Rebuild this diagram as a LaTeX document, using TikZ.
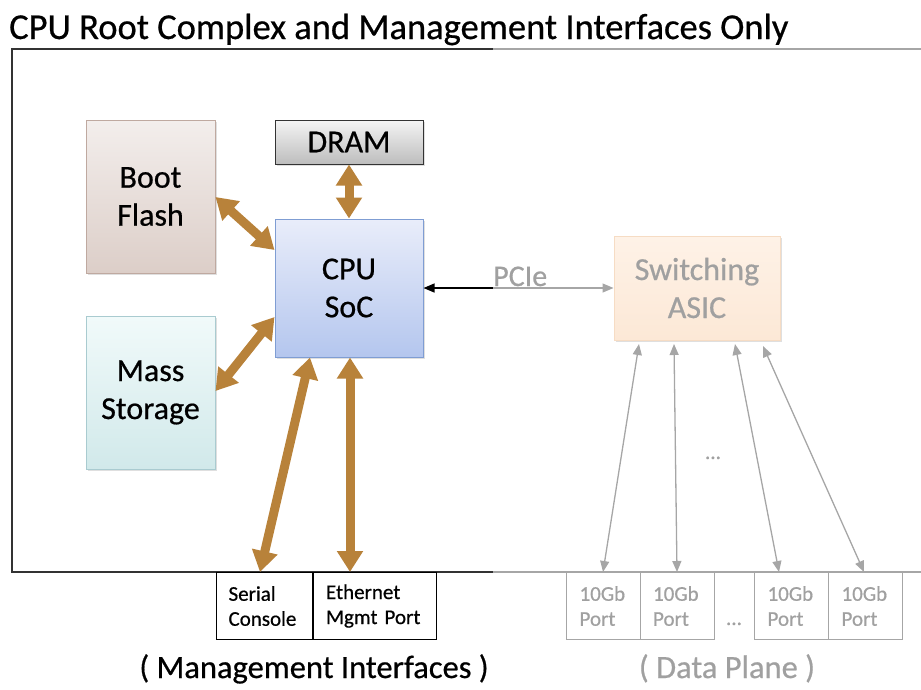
\documentclass[tikz,border=0pt]{standalone}
\usepackage{fontspec}
\setmainfont{Carlito}[FakeBold=0.6]
\usetikzlibrary{arrows.meta,shadows,calc}

\definecolor{linkbrown}{HTML}{B8823A}
\definecolor{dimgray}{HTML}{A6A6A6}
\definecolor{dimtext}{HTML}{A0A0A0}
\definecolor{darkline}{HTML}{333333}
\definecolor{bootdraw}{HTML}{BFA9A0}
\definecolor{boottop}{HTML}{F3EEEC}
\definecolor{bootbot}{HTML}{DCCEC8}
\definecolor{dramtop}{HTML}{F4F4F4}
\definecolor{drambot}{HTML}{BDBDBD}
\definecolor{cpudraw}{HTML}{7F9DD3}
\definecolor{cputop}{HTML}{E9EDFA}
\definecolor{cpubot}{HTML}{B4C6EE}
\definecolor{massdraw}{HTML}{A9CBD0}
\definecolor{masstop}{HTML}{F1FAFA}
\definecolor{massbot}{HTML}{D1E9EA}
\definecolor{asicdraw}{HTML}{F6DCC4}
\definecolor{asictop}{HTML}{FEF2E7}
\definecolor{asicbot}{HTML}{FCE8D6}

\tikzset{
  block/.style={draw, line width=1pt, align=center, inner sep=0pt,
    font=\fontsize{32}{38}\selectfont,
    drop shadow={shadow xshift=1.5pt, shadow yshift=-1.5pt, opacity=0.25}},
  bootbox/.style={block, draw=bootdraw, top color=boottop, bottom color=bootbot},
  drambox/.style={block, draw=darkline, top color=dramtop, bottom color=drambot},
  cpubox/.style={block, draw=cpudraw, top color=cputop, bottom color=cpubot},
  massbox/.style={block, draw=massdraw, top color=masstop, bottom color=massbot},
  asicbox/.style={block, draw=asicdraw, top color=asictop, bottom color=asicbot,
    text=dimtext},
  mgmtport/.style={draw=black, line width=1.1pt, align=left, text width=71pt,
    inner xsep=12.5pt, inner ysep=0pt, minimum height=67pt,
    font=\fontsize{21}{25}\selectfont},
  dataport/.style={draw=dimgray, line width=1.1pt, align=left, text width=48pt,
    inner xsep=13pt, inner ysep=0pt, minimum height=67pt, text=dimtext,
    font=\fontsize{21}{25}\selectfont},
  fatlink/.style={line width=9pt, linkbrown,
    {Triangle[width=25pt,length=21pt]}-{Triangle[width=25pt,length=21pt]}},
  thinlink/.style={line width=1.3pt, dimgray,
    {Triangle[width=9pt,length=11pt]}-{Triangle[width=9pt,length=11pt]}}
}

\begin{document}
\begin{tikzpicture}[x=1pt, y=-1pt]
\useasboundingbox (0,0) rectangle (921,689);

% title
\node[anchor=base west, inner sep=0pt, font=\fontsize{36.5}{42}\selectfont] (title) at (9,39)
  {CPU Root Complex and Management Interfaces Only};

% enclosing frame: dark on the CPU side, grey on the data-plane side
\coordinate (fsplittop) at (493,49);
\coordinate (fsplitbot) at (493,572);
\coordinate (fendtop) at (921,49);
\coordinate (fendbot) at (921,572);
\draw[line width=2pt, darkline] (fsplittop) -- (12,49) -- (12,572) -- (fsplitbot);
\draw[line width=1.6pt, dimgray] (fsplittop) -- (fendtop);
\draw[line width=1.6pt, dimgray] (fsplitbot) -- (fendbot);

% CPU complex blocks
\node[bootbox, minimum width=129pt, minimum height=153pt] (boot) at (150.5,196.5) {Boot\\Flash};
\node[massbox, minimum width=129pt, minimum height=153pt] (mass) at (150.5,392.5) {Mass\\Storage};
\node[drambox, minimum width=148pt, minimum height=44pt] (dram) at (349,142) {\raisebox{-2pt}{DRAM}};
\node[cpubox, minimum width=148pt, minimum height=138pt] (cpu) at (349,288) {CPU\\SoC};
\node[asicbox, minimum width=166pt, minimum height=104pt] (asic) at (697,288) {Switching\\ASIC};

% management interfaces
\node[mgmtport, anchor=north west] (serial) at (215.5,572) {Serial\\Console};
\node[mgmtport, anchor=north west, text width=98pt] (eth) at (313,572) {Ethernet\\Mgmt Port};
\node[font=\fontsize{32.5}{38}\selectfont, anchor=base] (mgmtlabel) at (314,678)
  {( Management Interfaces )};

% data-plane ports
\node[dataport, anchor=north west] (port1) at (566,572) {10Gb\\Port};
\node[dataport, anchor=north west] (port2) at (639.5,572) {10Gb\\Port};
\node[dataport, anchor=north west] (port3) at (754,572) {10Gb\\Port};
\node[dataport, anchor=north west] (port4) at (828,572) {10Gb\\Port};
\node[text=dimtext, font=\fontsize{21}{24}\selectfont, anchor=base] (portdots) at (734,625) {...};
\node[text=dimtext, font=\fontsize{32.5}{38}\selectfont, anchor=base] (datalabel) at (727,678)
  {( Data Plane )};
\node[text=dimtext, font=\fontsize{21}{24}\selectfont, anchor=base] (lanedots) at (713,459) {...};

% memory and console links
\draw[fatlink] (boot.east |- 0,197) -- (cpu.west |- 0,250);
\draw[fatlink] (mass.east |- 0,391) -- (cpu.west |- 0,317);
\draw[fatlink] (dram.south) -- (cpu.north);
\draw[fatlink] (serial.north -| 260,0) -- (cpu.south -| 310,0);
\draw[fatlink] (eth.north -| 350,0) -- (cpu.south -| 350,0);

% PCIe link to the switching ASIC
\coordinate (pcisplit) at (493,288);
\draw[line width=1.3pt, black, -{Triangle[width=9pt,length=11pt]}] (pcisplit) -- (cpu.east);
\draw[line width=1.3pt, dimgray, -{Triangle[width=9pt,length=11pt]}] (pcisplit) -- (asic.west);
\node[anchor=base west, inner sep=0pt, text=dimtext, font=\fontsize{30}{34}\selectfont] (pcie) at (493,286) {PCIe};

% ASIC lanes to front-panel ports
\coordinate (lane1) at (639,344);
\coordinate (lane2) at (674,344);
\coordinate (lane3) at (735,344);
\coordinate (lane4) at (763,346);
\draw[thinlink] (lane1) -- (port1.north -| 603,0);
\draw[thinlink] (lane2) -- (port2.north -| 677,0);
\draw[thinlink] (lane3) -- (port3.north -| 779,0);
\draw[thinlink] (lane4) -- (port4.north -| 864,0);
\end{tikzpicture}
\end{document}
